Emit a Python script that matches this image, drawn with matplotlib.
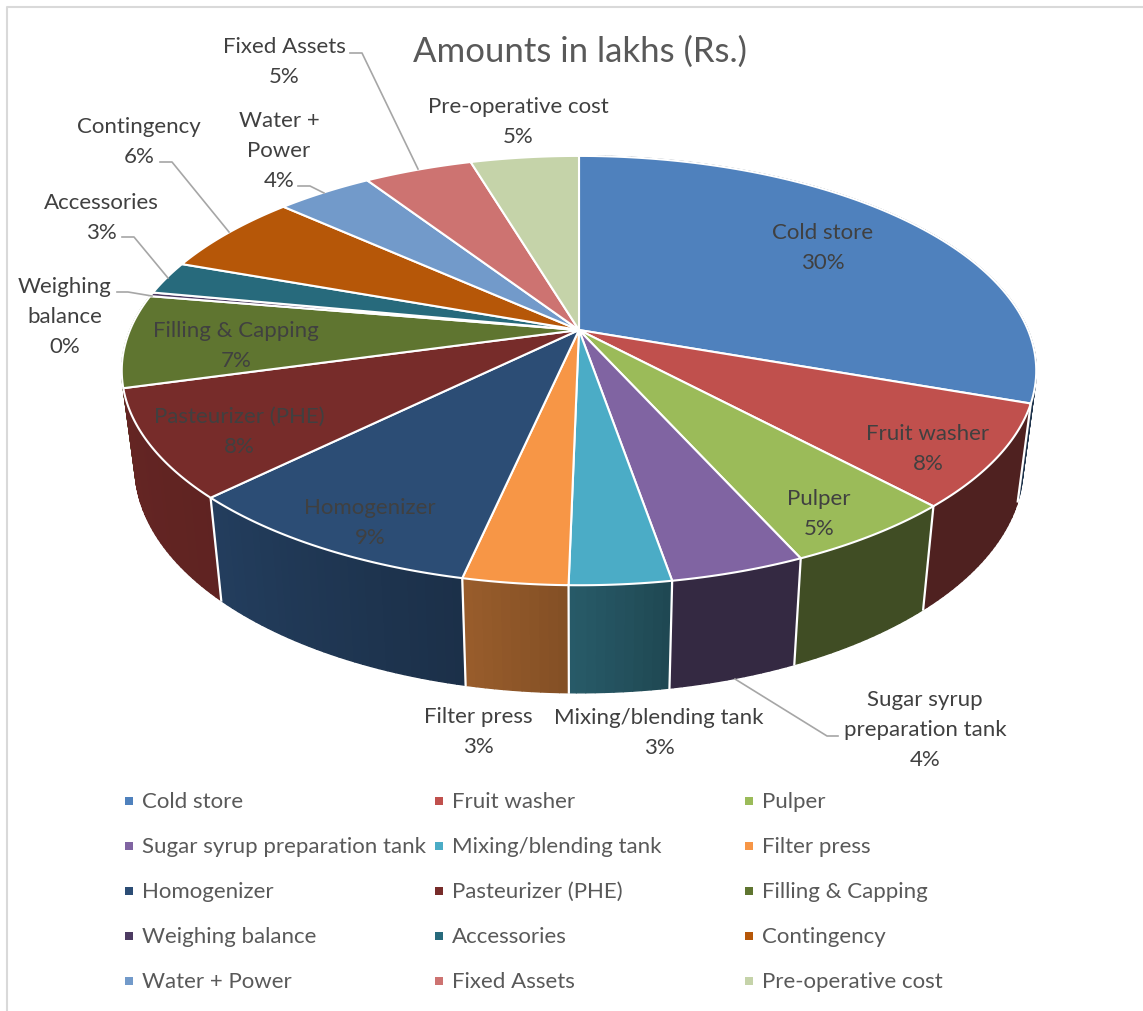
#!/usr/bin/env python3

import numpy as np
import matplotlib.pyplot as plt
from matplotlib.collections import PolyCollection

plt.rcParams['font.family'] = ['Lato', 'DejaVu Sans']

names = ['Cold store', 'Fruit washer', 'Pulper', 'Sugar syrup preparation tank',
         'Mixing/blending tank', 'Filter press', 'Homogenizer', 'Pasteurizer (PHE)',
         'Filling & Capping', 'Weighing balance', 'Accessories', 'Contingency',
         'Water + Power', 'Fixed Assets', 'Pre-operative cost']
shares = [30.4, 7.7, 5.2, 4.0, 3.0, 3.1, 9.2, 8.1, 7.0, 0.3, 2.5, 6.2, 4.1, 4.6, 4.6]
colors = ['#4f81bd', '#c0504d', '#9bbb59', '#8064a2', '#4bacc6', '#f79646', '#2c4d75',
          '#772c2a', '#5f7530', '#4d3b62', '#276a7c', '#b65708', '#729aca', '#cd7371',
          '#c5d3a9']

# label text lines and where each block sits (x centre, y of first line)
label_lines = [['Cold store'], ['Fruit washer'], ['Pulper'], ['Sugar syrup', 'preparation tank'],
               ['Mixing/blending tank'], ['Filter press'], ['Homogenizer'], ['Pasteurizer (PHE)'],
               ['Filling & Capping'], ['Weighing', 'balance'], ['Accessories'], ['Contingency'],
               ['Water +', 'Power'], ['Fixed Assets'], ['Pre-operative cost']]
label_pos = [(823, 232), (928, 433), (819, 498), (925, 699), (659, 717), (478, 716), (370, 507),
             (239, 416), (236, 330), (65, 286), (101, 202), (139, 126), (279, 120), (284, 46),
             (518, 106)]

leaders = [[(350, 53), (362, 53), (418, 169)],
           [(298, 186), (310, 186), (324, 193)],
           [(160, 162), (172, 162), (229, 232)],
           [(122, 237), (134, 237), (168, 278)],
           [(117, 292), (128, 292), (152, 296)],
           [(735, 679), (827, 736), (838, 736)]]

W, H = 1143, 1011
CX = 579
PERSP = 0.189
TOP = dict(cy=330.0, a=449.0, b=207.0)
BOTTOM = dict(cy=424.0, a=436.0, b=218.0)


def project(deg, plane):
    # clockwise degrees from 12 o'clock on a disc seen in perspective
    t = np.radians(deg)
    u, v = np.sin(t), np.cos(t)
    d = 1 + PERSP * v
    return np.column_stack([CX + plane['a'] * u / d, plane['cy'] - plane['b'] * v / d])


def side_shade(deg):
    return np.interp(deg, [100, 170, 180, 192, 225, 260], [0.41, 0.41, 0.52, 0.62, 0.80, 0.86])


fig = plt.figure(figsize=(W / 100, H / 100), dpi=100)
ax = fig.add_axes([0, 0, 1, 1])
ax.set_xlim(0, W)
ax.set_ylim(H, 0)
ax.axis('off')

# frame around the chart area
ax.plot([W + 5, 7, 7], [7, 7, H + 5], color='#d9d9d9', lw=1.5)

edges = np.cumsum([0] + shares) / sum(shares) * 360

# side wall, cut in thin strips so the shade can change round the rim
quads, quad_cols, quad_depth = [], [], []
for i, c in enumerate(colors):
    a = np.arange(edges[i], edges[i + 1], 1.0)
    a = np.append(a, edges[i + 1])
    if a[-1] < 95 or a[0] > 265:
        continue
    rgb = np.array(plt.matplotlib.colors.to_rgb(c))
    for a0, a1 in zip(a[:-1], a[1:]):
        top = project(np.array([a0, a1]), TOP)
        bot = project(np.array([a1, a0]), BOTTOM)
        quads.append(np.vstack([top, bot]))
        quad_cols.append(rgb * side_shade(0.5 * (a0 + a1)))
        quad_depth.append(np.cos(np.radians(0.5 * (a0 + a1))))
order = np.argsort(quad_depth)[::-1]
ax.add_collection(PolyCollection([quads[j] for j in order],
                                 facecolors=[quad_cols[j] for j in order],
                                 edgecolors=[quad_cols[j] for j in order], linewidths=1.0, zorder=2))

# white seams down the wall
for e in edges:
    if 100 < e < 250:
        seam = np.vstack([project(np.array([e]), TOP), project(np.array([e]), BOTTOM)])
        ax.plot(seam[:, 0], seam[:, 1], color='white', lw=1.6, zorder=3)

# top face
for i, c in enumerate(colors):
    a = np.linspace(edges[i], edges[i + 1], 100)
    rim = project(a, TOP)
    pts = np.vstack([[CX, TOP['cy']], rim])
    ax.fill(pts[:, 0], pts[:, 1], facecolor=c, edgecolor='white', lw=1.5, joinstyle='round', zorder=4)

# data labels
for i in range(len(names)):
    x, y = label_pos[i]
    lines = label_lines[i] + ['%d%%' % int(shares[i] + 0.5)]
    for k, s in enumerate(lines):
        ax.text(x, y + 1 + 30 * k, s, ha='center', va='center', fontsize=16.0, color='#404040', zorder=6)

for pts in leaders:
    ax.plot(*zip(*pts), color='#a6a6a6', lw=1.2, zorder=5)

ax.text(580, 52, 'Amounts in lakhs (Rs.)', ha='center', va='center', fontsize=25, color='#595959')

# legend, three columns filled row by row
col_x = [129, 439, 749]
row_y = [801, 846, 891, 936, 981]
for i, (n, c) in enumerate(zip(names, colors)):
    x = col_x[i % 3]
    y = row_y[i // 3]
    ax.scatter([x], [y], marker='s', s=30, color=c, linewidths=0)
    ax.text(x + 13, y + 1, n, ha='left', va='center', fontsize=16.0, color='#595959')

fig.savefig('out.png', dpi=100)
plt.close()
